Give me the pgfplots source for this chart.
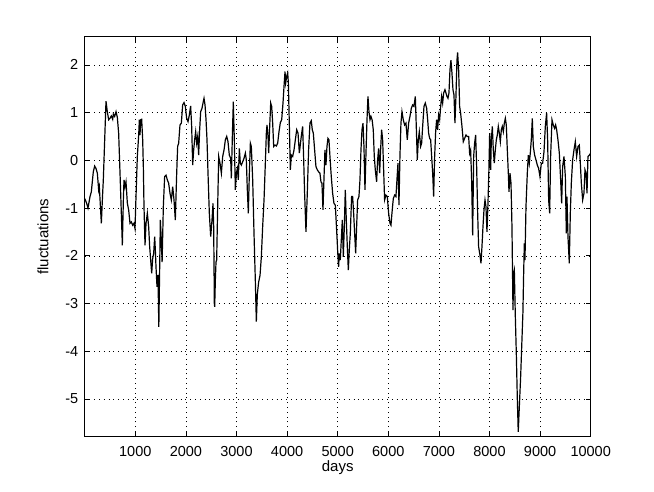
\documentclass[border=0pt]{standalone}
\usepackage{pgfplots}
\pgfplotsset{compat=1.18}
\usepackage{fontspec}
\setmainfont{Liberation Sans}

% fluctuation series
\begin{document}
\begin{tikzpicture}
\begin{axis}[
  scale only axis,
  width=506pt, height=400pt,
  xmin=0, xmax=10000,
  ymin=-5.79, ymax=2.59,
  xtick={1000,2000,...,10000},
  ytick={-5,-4,...,2},
  xlabel={days},
  ylabel={fluctuations},
  xlabel shift=-3pt,
  ylabel shift=10pt,
  tick align=inside,
  major tick length=5pt,
  grid=major,
  major grid style={black, line width=0.5pt, dash pattern=on 0.8pt off 4pt},
  axis line style={black, line width=0.8pt},
  tick style={black, line width=0.6pt},
  ticklabel style={font=\fontsize{14.5}{17}\selectfont},
  xticklabel style={yshift=-6pt},
  yticklabel style={xshift=-3pt},
  label style={font=\fontsize{15}{18}\selectfont},
  /pgf/number format/assume math mode=true,
  /pgf/number format/set thousands separator={},
  scaled x ticks=false,
]
\addplot[black, line width=1.2pt] coordinates {
(0,-0.80)(39,-0.90)(65,-1.00)(105,-0.76)(131,-0.66)(170,-0.24)(197,-0.12)(223,-0.17)
(250,-0.27)(276,-0.62)(289,-0.55)(329,-1.32)(355,-0.69)(368,-0.41)(395,0.43)(421,1.24)
(447,1.02)(474,0.85)(500,0.88)(526,0.93)(553,0.86)(566,0.97)(592,0.92)(619,1.02)
(645,0.90)(671,0.57)(698,-0.27)(724,-1.11)(744,-1.78)(764,-0.83)(777,-0.41)(797,-0.55)
(816,-0.45)(843,-0.90)(869,-1.04)(895,-1.32)(922,-1.29)(948,-1.36)(974,-1.32)(994,-1.43)
(1014,-0.76)(1040,0.08)(1067,0.53)(1080,0.85)(1093,0.53)(1106,0.85)(1126,0.86)(1146,0.43)
(1159,-0.13)(1172,-0.97)(1192,-1.78)(1212,-1.32)(1238,-1.11)(1264,-1.39)(1284,-1.81)
(1304,-2.09)(1324,-2.37)(1343,-2.06)(1363,-1.95)(1383,-1.60)(1396,-1.88)(1409,-2.23)
(1429,-2.65)(1448,-2.40)(1465,-3.49)(1495,-1.25)(1514,-1.67)(1530,-2.13)(1554,-0.97)
(1580,-0.34)(1607,-0.31)(1633,-0.41)(1659,-0.48)(1686,-0.69)(1712,-0.83)(1739,-0.55)
(1765,-0.83)(1791,-1.25)(1818,-0.27)(1837,0.29)(1857,0.36)(1883,0.74)(1910,0.78)
(1936,1.16)(1963,1.21)(1989,1.13)(2015,0.88)(2042,0.81)(2068,0.95)(2094,1.14)(2114,0.71)
(2134,-0.10)(2154,0.22)(2173,0.43)(2193,0.60)(2213,0.36)(2233,0.50)(2252,0.11)(2272,0.64)
(2292,1.02)(2318,1.09)(2338,1.20)(2358,1.30)(2378,1.16)(2398,0.85)(2417,0.43)(2437,-0.27)
(2463,-1.11)(2490,-1.60)(2516,-1.25)(2536,-0.90)(2549,-1.39)(2562,-3.00)(2569,-3.07)
(2582,-2.51)(2595,-2.13)(2608,-2.09)(2628,-0.97)(2648,0.08)(2674,-0.06)(2701,-0.27)
(2727,0.08)(2754,0.22)(2780,0.43)(2806,0.50)
(2832,0.39)(2858,0.11)(2885,0.04)(2898,-0.38)(2918,0.50)(2937,1.23)(2957,0.43)(2977,-0.62)
(2997,-0.27)(3017,-0.17)(3036,-0.41)(3056,0.25)(3076,-0.06)(3096,-0.10)(3122,-0.03)
(3148,0.04)(3175,0.15)(3194,0.01)(3214,-0.62)(3234,-1.11)(3254,-0.27)(3274,0.36)
(3293,0.29)(3320,-0.41)(3346,-1.53)(3372,-2.51)(3392,-3.38)(3412,-2.80)(3438,-2.55)
(3465,-2.41)(3491,-2.02)(3517,-1.39)(3544,-0.83)(3570,-0.06)(3590,0.57)(3603,0.74)
(3623,0.50)(3636,0.15)(3656,0.71)(3676,1.20)(3695,1.13)(3715,0.78)(3735,0.29)(3761,0.32)
(3788,0.30)(3814,0.36)(3840,0.60)(3866,0.79)(3893,0.85)(3919,1.20)(3939,1.55)(3959,1.86)
(3972,1.62)(3992,1.76)(4012,1.83)(4025,1.62)(4045,0.71)(4064,-0.20)(4084,0.11)(4110,0.08)
(4137,0.22)(4163,0.43)(4190,0.64)(4216,0.57)(4242,0.15)
(4280,0.50)(4307,0.71)(4326,0.08)(4346,-0.69)(4373,-1.50)(4399,-0.69)(4425,0.22)
(4452,0.78)(4478,0.83)(4498,0.64)(4518,0.57)(4544,0.22)(4570,-0.13)(4597,-0.20)
(4623,-0.24)(4649,-0.27)(4669,-0.45)(4689,-0.48)(4709,-1.04)(4728,-0.41)(4748,0.22)
(4768,-0.10)(4788,0.29)(4807,0.46)(4827,0.43)(4847,0.08)(4873,-0.34)(4900,-0.69)
(4926,-0.90)(4953,-0.94)(4979,-1.46)(5005,-2.02)(5018,-2.23)(5032,-1.95)(5051,-2.09)
(5071,-1.67)(5091,-1.25)(5111,-2.02)(5131,-1.39)(5150,-0.62)(5170,-1.25)(5190,-1.81)
(5210,-2.30)(5229,-1.88)(5249,-1.53)(5275,-0.76)(5295,-0.76)(5315,-1.11)(5335,-1.53)
(5355,-1.95)(5374,-1.39)(5394,-0.83)(5420,-0.76)(5440,-0.41)(5460,0.22)(5480,0.64)
(5500,0.78)(5519,0.29)(5539,-0.62)(5559,0.15)(5579,0.85)(5598,1.34)(5618,1.02)(5638,0.85)
(5658,0.92)(5680,0.85)(5703,0.64)(5723,0.08)(5743,-0.20)(5769,-0.45)(5789,0.01)(5809,0.25)
(5829,-0.27)(5848,0.22)(5868,0.64)(5888,0.43)(5908,-0.20)(5927,-0.83)(5954,-0.73)
(5980,-0.76)(6007,-1.11)(6033,-1.32)(6053,-1.36)(6072,-1.11)(6099,-0.80)(6125,-0.73)
(6151,-0.76)(6171,-0.41)(6191,-0.06)(6211,-0.94)(6230,0.08)(6250,0.78)(6270,1.02)
(6296,0.85)(6323,0.74)(6349,0.78)(6375,0.43)(6402,0.78)(6428,0.92)(6455,1.09)(6481,1.16)
(6507,1.13)(6534,1.34)(6553,0.71)(6573,0.01)(6593,0.43)(6613,0.60)(6639,0.29)(6659,0.36)
(6679,0.71)(6705,1.13)(6731,1.20)(6758,1.09)(6778,0.85)(6797,0.57)(6817,0.46)(6837,0.43)
(6857,0.08)(6877,-0.27)(6896,-0.76)(6916,0.08)(6936,0.60)(6955,0.85)(6975,0.64)(6995,0.95)
(7015,0.85)(7035,1.13)(7054,1.34)(7074,1.20)(7094,1.41)
(7120,1.48)(7140,1.41)(7159,1.34)(7179,1.30)(7199,1.41)(7219,1.90)(7238,2.10)(7258,1.83)
(7278,1.48)(7298,1.37)(7317,0.78)(7337,1.34)(7357,2.10)(7370,2.26)(7390,1.90)(7410,1.13)
(7429,0.99)(7456,0.71)(7482,0.39)(7509,0.46)(7535,0.53)(7561,0.50)(7588,0.50)(7607,0.15)
(7627,0.22)(7647,-0.41)(7667,-1.57)(7687,0.08)(7706,0.36)(7726,0.53)(7746,-0.13)
(7766,-1.11)(7785,-1.81)(7812,-1.99)(7832,-2.16)(7851,-1.81)(7871,-1.39)(7891,-1.04)
(7911,-0.83)(7930,-0.97)(7950,-1.50)(7970,-0.90)(7990,-0.13)(8003,0.57)(8023,-0.20)
(8036,0.43)(8056,0.71)(8075,0.22)(8095,-0.06)(8115,0.22)(8135,0.43)(8154,0.53)(8174,0.71)
(8194,0.57)(8214,0.39)(8234,0.64)(8253,0.71)(8273,0.60)(8293,0.78)(8313,0.88)(8332,0.74)
(8352,0.22)(8372,-0.27)(8385,-0.66)(8405,-0.27)(8425,-0.48)(8444,-1.39)(8464,-3.14)
(8477,-2.37)(8491,-2.30)(8510,-3.25)(8530,-4.05)(8550,-5.00)(8568,-5.69)(8590,-5.15)
(8615,-4.55)(8640,-3.80)(8660,-3.20)(8675,-2.37)(8688,-1.74)(8701,-2.09)(8721,-0.97)
(8747,-0.27)(8767,0.11)(8787,-0.06)(8806,0.15)(8826,0.43)(8846,0.88)(8866,0.29)(8892,0.11)
(8918,0.01)(8945,-0.10)(8971,-0.17)(8997,-0.34)(9024,-0.06)(9050,-0.06)(9077,0.18)
(9103,0.71)(9129,0.99)(9149,0.43)(9169,-0.83)(9189,-1.11)(9208,0.08)(9235,0.85)(9261,0.74)
(9287,0.67)(9307,0.74)(9327,0.64)(9353,0.43)(9380,0.15)(9406,-0.41)(9426,-0.90)(9446,-0.13)
(9472,0.08)(9499,-0.34)(9518,-1.53)(9531,-0.76)(9551,-1.60)(9577,-2.16)(9597,-1.11)
(9617,-0.48)(9643,0.01)(9670,0.22)(9696,0.39)(9722,0.08)(9749,0.29)(9775,0.32)(9795,-0.06)
(9815,-0.48)(9841,-0.83)(9867,-0.69)(9887,-0.20)(9907,-0.27)(9927,-0.69)(9946,0.08)
(9973,0.11)(10000,0.15)
};
\coordinate (ll) at (rel axis cs:0,0);
\coordinate (ur) at (rel axis cs:1,1);
\end{axis}
\path ([shift={(-84.7pt,-55.3pt)}]ll) rectangle ([shift={(63.3pt,36.7pt)}]ur);
\end{tikzpicture}
\end{document}
